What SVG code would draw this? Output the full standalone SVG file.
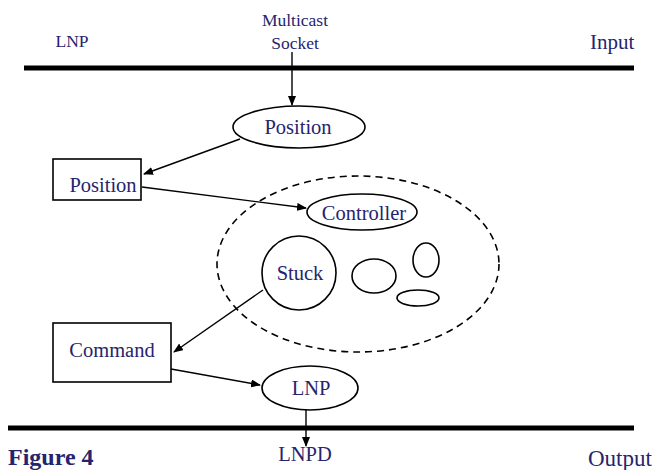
<svg xmlns="http://www.w3.org/2000/svg" width="662" height="470" viewBox="0 0 662 470">
<defs>
<marker id="ah" markerWidth="10" markerHeight="8" refX="9" refY="4" orient="auto" markerUnits="userSpaceOnUse">
<path d="M0,0 L10,4 L0,8 Z" fill="#000"/>
</marker>
<style>
text{font-family:"Liberation Serif","Times New Roman",serif;fill:#26246e;}
.lbl{font-size:17.5px;text-anchor:middle;}
.node{font-size:20.5px;text-anchor:middle;}
.big{font-size:21px;}
.shape{fill:#fff;stroke:#000;stroke-width:1.6;}
.conn{stroke:#000;stroke-width:1.4;fill:none;marker-end:url(#ah);}
.bus{stroke:#000;stroke-width:5;}
</style>
</defs>
<rect width="662" height="470" fill="#fff"/>
<g id="buses">
<line class="bus" x1="24" y1="68" x2="634" y2="68"/>
<line class="bus" x1="8" y1="428" x2="634" y2="428"/>
</g>
<g id="labels">
<text class="lbl" x="72" y="47">LNP</text>
<text class="lbl" x="295" y="26">Multicast</text>
<text class="lbl" x="295" y="49">Socket</text>
<text class="big" x="590" y="49">Input</text>
<text class="node" x="305" y="461">LNPD</text>
<text class="big" x="588" y="466" style="font-size:23px">Output</text>
<text x="8" y="465" font-weight="bold" style="font-size:24px">Figure 4</text>
</g>
<g id="cluster">
<ellipse cx="358" cy="264" rx="141" ry="88" fill="none" stroke="#000" stroke-width="1.6" stroke-dasharray="7,5"/>
</g>
<g id="position-in">
<ellipse class="shape" cx="299" cy="127" rx="66" ry="21"/>
<text class="node" x="298" y="134">Position</text>
</g>
<g id="position-box">
<rect class="shape" x="53" y="159" width="88" height="41"/>
<text class="node" x="103" y="192">Position</text>
</g>
<g id="controller">
<ellipse class="shape" cx="362" cy="212" rx="55" ry="18"/>
<text class="node" x="364" y="220">Controller</text>
</g>
<g id="stuck">
<ellipse class="shape" cx="299" cy="273" rx="37" ry="37"/>
<text class="node" x="300" y="280">Stuck</text>
</g>
<g id="blob1"><ellipse class="shape" cx="374" cy="276" rx="22" ry="17"/></g>
<g id="blob2"><ellipse class="shape" cx="426" cy="260" rx="13" ry="17"/></g>
<g id="blob3"><ellipse class="shape" cx="418" cy="298" rx="21" ry="8"/></g>
<g id="command">
<rect class="shape" x="53" y="323" width="118" height="59"/>
<text class="node" x="112" y="357">Command</text>
</g>
<g id="lnp">
<ellipse class="shape" cx="310" cy="388" rx="48" ry="22"/>
<text class="node" x="311" y="395">LNP</text>
</g>
<g id="connectors">
<line class="conn" x1="292" y1="52" x2="292" y2="105"/>
<line class="conn" x1="240" y1="139" x2="144" y2="174"/>
<line class="conn" x1="142" y1="187" x2="306" y2="208"/>
<line class="conn" x1="263" y1="290" x2="174" y2="352"/>
<line class="conn" x1="171" y1="369" x2="260" y2="385"/>
<line class="conn" x1="306" y1="410" x2="306" y2="446"/>
</g>
</svg>
